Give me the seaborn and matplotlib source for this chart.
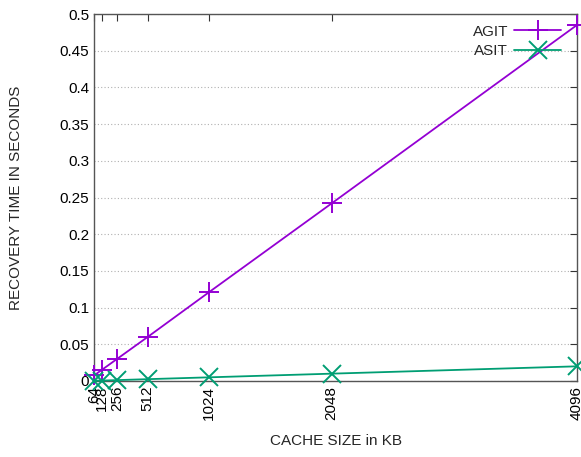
import matplotlib
matplotlib.use("Agg")
import matplotlib.pyplot as plt
import numpy as np
import pandas as pd
import seaborn as sns

# cache size (KB) and recovery times (s)
cache_kb = [64, 128, 256, 512, 1024, 2048, 4096]
agit_sec = [0.0075, 0.015, 0.030, 0.060, 0.121, 0.242, 0.485]
asit_sec = [0.0003, 0.0006, 0.0012, 0.0025, 0.005, 0.010, 0.020]
y_ticks = [0, 0.05, 0.1, 0.15, 0.2, 0.25, 0.3, 0.35, 0.4, 0.45, 0.5]
y_labels = ["0", "0.05", "0.1", "0.15", "0.2", "0.25", "0.3", "0.35", "0.4", "0.45", "0.5"]

df = pd.DataFrame({
    "cache": cache_kb * 2,
    "time": agit_sec + asit_sec,
    "method": ["AGIT"] * len(cache_kb) + ["ASIT"] * len(cache_kb),
})

sns.set_style("white")
plt.rcParams["font.family"] = ["Liberation Sans", "DejaVu Sans"]

fig = plt.figure(figsize=(5.81, 4.57), dpi=100)
ax = fig.add_axes([94 / 581, 1 - 381 / 457, 483 / 581, 367 / 457])

palette = {"AGIT": "#9400D3", "ASIT": "#009E73"}
markers = {"AGIT": "+", "ASIT": "x"}
sizes = {"AGIT": 15, "ASIT": 13}
for name, grp in df.groupby("method"):
    sns.lineplot(data=grp, x="cache", y="time", ax=ax, color=palette[name],
                 marker=markers[name], markersize=sizes[name], markeredgewidth=1.4,
                 markeredgecolor=palette[name], linewidth=1.3, label=name,
                 clip_on=False, zorder=3)

ax.set_xlim(64, 4096)
ax.set_ylim(0, 0.5)
ax.set_xticks(cache_kb)
ax.set_xticklabels([str(c) for c in cache_kb], rotation=90, fontsize=11)
ax.set_yticks(y_ticks)
ax.set_yticklabels(y_labels, fontsize=11)
ax.yaxis.grid(True, linestyle=(0, (1, 2)), color="#b0b0b0", linewidth=0.8)
ax.tick_params(direction="in", length=5, width=0.8, top=True, right=True, colors="#333333")
ax.tick_params(axis="both", labelcolor="black")
for s in ax.spines.values():
    s.set_color("#555555")
    s.set_linewidth(1.0)

ax.set_xlabel("CACHE SIZE in KB", fontsize=11, labelpad=10)
ax.set_ylabel("RECOVERY TIME IN SECONDS", fontsize=11, labelpad=26)

leg = ax.legend(loc="upper right", frameon=False, fontsize=11, markerfirst=False,
                handlelength=3.1, handletextpad=0.4, borderaxespad=0.3,
                labelspacing=0.35, bbox_to_anchor=(0.99, 1.0))

fig.savefig("out.png", dpi=100)
